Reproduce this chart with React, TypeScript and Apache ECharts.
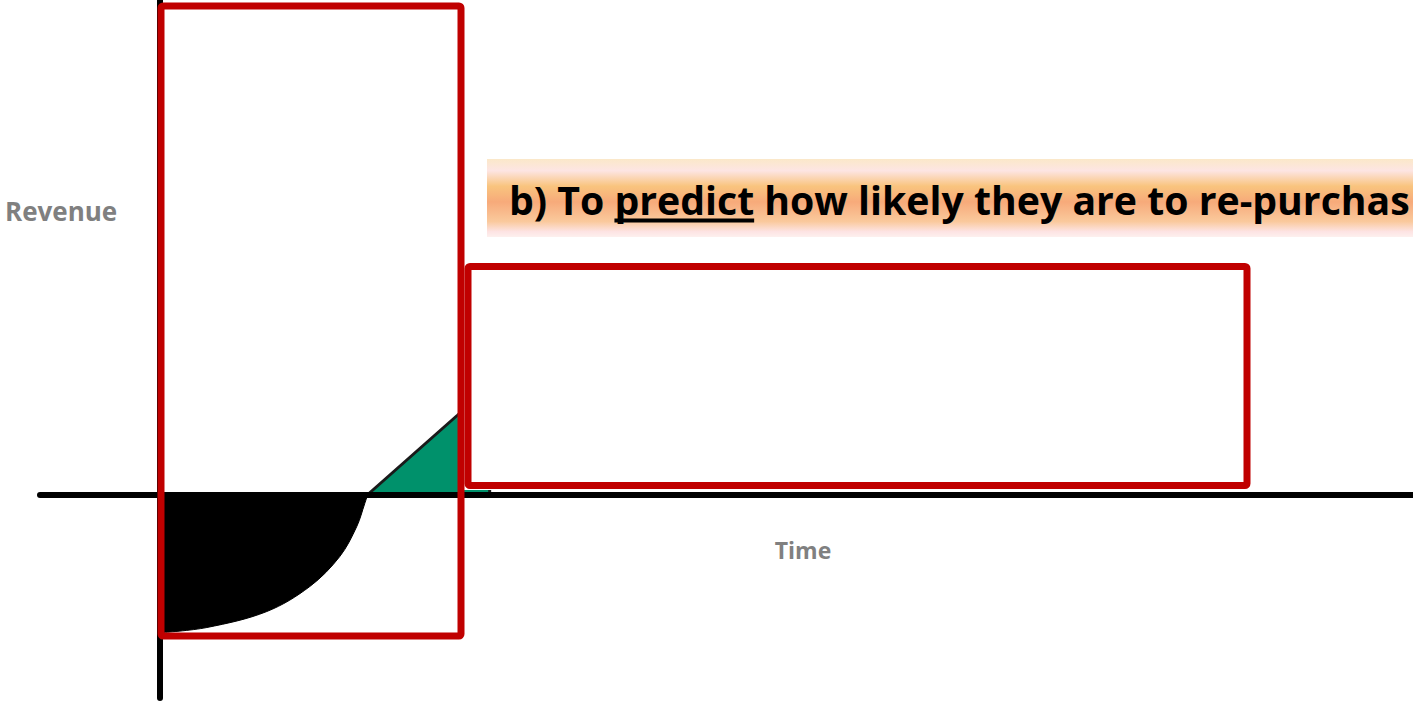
import React, { useEffect, useRef } from "react";
import * as echarts from "echarts";

// Axis ranges (time / revenue units)
const timeRange = [-1.2, 12.54];
const revenueRange = [-2.035, 4.945];

// Investment period: negative revenue curve
const investTime = [0.03, 0.47, 1.07, 1.5, 1.8, 1.97, 2.05, 2.08];
const investRevenue = [-1.38, -1.33, -1.17, -0.92, -0.62, -0.32, -0.09, 0];

// Return period: positive revenue growth
const returnTime = [2.08, 2.98, 3.3, 3.3];
const returnRevenue = [0, 0.795, 1.08, 0];

// Texts
const yName = "Revenue";
const xName = "Time";
const bannerPieces = ["b) To ", "predict", " how likely they are to re-purchas"];

const BANNER_FONT = '"Open Sans"';

function measure(text: string, size: number): number {
  const c = document.createElement("canvas");
  const ctx = c.getContext("2d");
  if (!ctx) return text.length * size * 0.55;
  ctx.font = `bold ${size}px ${BANNER_FONT}`;
  return ctx.measureText(text).width;
}

export default function App() {
  const ref = useRef<HTMLDivElement>(null);

  useEffect(() => {
    document.body.style.margin = "0";
    if (!ref.current) return;
    const chart = echarts.init(ref.current, undefined, { renderer: "svg" });

    // fit banner font to the reference width
    const base = 40;
    const fitW = measure(bannerPieces.join(""), base);
    const size = (base * 901) / fitW;
    const w0 = measure(bannerPieces[0], size);
    const w1 = measure(bannerPieces[1], size);
    const bx0 = 509;
    const bx1 = bx0 + w0;
    const bx2 = bx1 + w1;
    const bannerY = 199;

    const bannerFont = (t: string, x: number) => ({
      type: "text",
      x,
      y: bannerY,
      z: 13,
      style: {
        text: t,
        fontFamily: "Open Sans",
        fontWeight: "bold",
        fontSize: size,
        fill: "#000",
        align: "left",
        verticalAlign: "middle",
      },
    });

    const option: any = {
      animation: false,
      grid: { left: 40, right: 0, top: 0, bottom: 4, containLabel: false },
      xAxis: {
        type: "value",
        min: timeRange[0],
        max: timeRange[1],
        z: 5,
        axisLine: { show: true, onZero: true, lineStyle: { color: "#000", width: 6 } },
        axisTick: { show: false },
        axisLabel: { show: false },
        splitLine: { show: false },
      },
      yAxis: {
        type: "value",
        min: revenueRange[0],
        max: revenueRange[1],
        z: 5,
        axisLine: { show: true, onZero: true, lineStyle: { color: "#000", width: 6 } },
        axisTick: { show: false },
        axisLabel: { show: false },
        splitLine: { show: false },
      },
      series: [
        {
          type: "line",
          data: investTime.map((t, i) => [t, investRevenue[i]]),
          smooth: 0.35,
          symbol: "none",
          lineStyle: { color: "#000", width: 1 },
          areaStyle: { color: "#000", opacity: 1, origin: 0 },
          z: 2,
        },
        {
          type: "line",
          data: returnTime.map((t, i) => [t, returnRevenue[i]]),
          symbol: "none",
          lineStyle: { color: "#1a1a1a", width: 3 },
          areaStyle: { color: "#00916B", opacity: 1, origin: 0 },
          z: 2,
        },
      ],
      graphic: [
        {
          type: "rect",
          z: 10,
          shape: { x: 487, y: 159, width: 926, height: 78 },
          style: {
            fill: new echarts.graphic.LinearGradient(0, 0, 0, 1, [
              { offset: 0, color: "#FBE8C9" },
              { offset: 0.15, color: "#FDE5E3" },
              { offset: 0.35, color: "#F9C47E" },
              { offset: 0.55, color: "#F7AA7A" },
              { offset: 0.8, color: "#FAC99C" },
              { offset: 0.93, color: "#FDE3E3" },
              { offset: 1, color: "#FDF0EE" },
            ]),
          },
        },
        {
          type: "rect",
          z: 10,
          shape: { x: 462, y: 262, width: 804, height: 228 },
          style: { fill: "#fff" },
        },
        {
          type: "rect",
          z: 11,
          shape: { x: 468, y: 266.5, width: 779, height: 219, r: 2 },
          style: { fill: "none", stroke: "#C00000", lineWidth: 7 },
        },
        {
          type: "rect",
          z: 11,
          shape: { x: 161, y: 6, width: 300, height: 630, r: 2 },
          style: { fill: "none", stroke: "#C00000", lineWidth: 7 },
        },
        bannerFont(bannerPieces[0], bx0),
        bannerFont(bannerPieces[1], bx1),
        bannerFont(bannerPieces[2], bx2),
        {
          type: "line",
          z: 13,
          shape: { x1: bx1, y1: 220.5, x2: bx1 + w1, y2: 220.5 },
          style: { stroke: "#000", lineWidth: 4 },
        },
        {
          type: "text",
          x: 5,
          y: 211,
          z: 13,
          style: {
            text: yName,
            fontFamily: "Open Sans",
            fontWeight: "bold",
            fontSize: 26,
            fill: "#808080",
            align: "left",
            verticalAlign: "middle",
          },
        },
        {
          type: "text",
          x: 803,
          y: 550,
          z: 13,
          style: {
            text: xName,
            fontFamily: "Open Sans",
            fontWeight: "bold",
            fontSize: 23,
            fill: "#808080",
            align: "center",
            verticalAlign: "middle",
          },
        },
      ],
    };

    chart.setOption(option);
    return () => chart.dispose();
  }, []);

  return (
    <div
      ref={ref}
      style={{ position: "absolute", left: 0, top: 0, width: 1413, height: 702 }}
    />
  );
}
